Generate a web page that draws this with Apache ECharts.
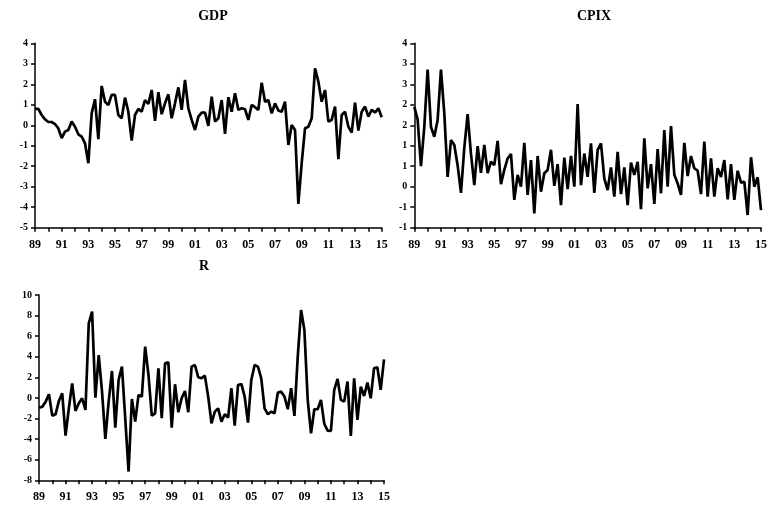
<!DOCTYPE html>
<html>
<head>
<meta charset="utf-8">
<script src="https://cdn.jsdelivr.net/npm/echarts@6/dist/echarts.min.js"></script>
<style>html,body{margin:0;padding:0;background:#fff}#c{width:771px;height:507px}</style>
</head>
<body>
<div id="c"></div>
<script>
// Quarterly categories 1989Q1 .. 2015Q1
const startYear = 1989, endYear = 2015;
const quarters = [];
for (let y = startYear; y <= endYear; y++) {
  for (let q = 1; q <= 4; q++) {
    if (y === endYear && q > 1) break;
    quarters.push(y + 'Q' + q);
  }
}
const titles = ['GDP', 'CPIX', 'R'];

const gdp = [
  0.80, 0.80, 0.50, 0.29, 0.16, 0.16, 0.06, -0.15, -0.63, -0.31,
  -0.23, 0.18, -0.07, -0.44, -0.55, -0.88, -1.85, 0.58, 1.27, -0.68,
  1.92, 1.15, 0.99, 1.48, 1.48, 0.50, 0.34, 1.35, 0.66, -0.75,
  0.50, 0.80, 0.66, 1.23, 1.04, 1.72, 0.21, 1.61, 0.54, 1.07,
  1.51, 0.34, 1.07, 1.85, 0.75, 2.21, 0.83, 0.26, -0.23, 0.42,
  0.62, 0.62, -0.03, 1.40, 0.18, 0.34, 1.23, -0.42, 1.37, 0.66,
  1.56, 0.75, 0.83, 0.78, 0.26, 0.99, 0.88, 0.75, 2.08, 1.15,
  1.23, 0.58, 1.07, 0.72, 0.66, 1.15, -0.96, 0.01, -0.23, -3.84,
  -1.85, -0.15, -0.07, 0.34, 2.78, 2.13, 1.15, 1.72, 0.18, 0.26,
  0.91, -1.66, 0.50, 0.66, -0.07, -0.36, 1.10, -0.26, 0.66, 0.91,
  0.42, 0.75, 0.62, 0.83, 0.39
];

const cpix = [
  1.95, 1.64, 0.50, 1.46, 2.86, 1.46, 1.22, 1.63, 2.86, 1.79,
  0.24, 1.14, 1.02, 0.52, -0.15, 0.95, 1.77, 0.80, 0.04, 0.99,
  0.34, 1.02, 0.33, 0.61, 0.53, 1.12, 0.06, 0.41, 0.69, 0.80,
  -0.32, 0.29, 0.00, 1.07, -0.20, 0.65, -0.65, 0.75, -0.12, 0.33,
  0.41, 0.90, 0.02, 0.55, -0.45, 0.71, -0.06, 0.75, 0.00, 2.02,
  0.04, 0.81, 0.24, 1.06, -0.15, 0.90, 1.06, 0.20, -0.08, 0.47,
  -0.24, 0.85, -0.18, 0.47, -0.45, 0.59, 0.29, 0.61, -0.55, 1.18,
  -0.04, 0.55, -0.42, 0.92, -0.16, 1.38, 0.00, 1.48, 0.29, 0.08,
  -0.20, 1.07, 0.26, 0.75, 0.45, 0.39, -0.18, 1.10, -0.24, 0.69,
  -0.24, 0.45, 0.24, 0.65, -0.31, 0.55, -0.32, 0.39, 0.10, 0.12,
  -0.69, 0.72, 0.00, 0.23, -0.57
];

const rate = [
  -0.94, -0.85, -0.36, 0.36, -1.72, -1.59, -0.29, 0.45, -3.66, -1.00,
  1.42, -1.26, -0.52, -0.03, -1.17, 7.25, 8.38, 0.03, 4.17, 0.61,
  -3.98, -0.36, 2.62, -2.88, 1.75, 3.04, -2.00, -7.15, -0.10, -2.30,
  0.29, 0.13, 4.98, 2.23, -1.72, -1.49, 2.88, -1.97, 3.37, 3.46,
  -2.88, 1.33, -1.39, -0.03, 0.68, -1.39, 3.04, 3.20, 2.01, 1.91,
  2.17, 0.13, -2.46, -1.33, -1.01, -2.30, -1.59, -1.91, 0.94, -2.69,
  1.26, 1.36, 0.13, -2.39, 1.75, 3.20, 3.04, 1.91, -1.01, -1.59,
  -1.33, -1.49, 0.52, 0.61, 0.13, -1.10, 0.94, -1.75, 4.01, 8.54,
  6.60, -0.19, -3.43, -1.10, -1.10, -0.19, -2.52, -3.17, -3.20, 0.78,
  1.85, -0.19, -0.36, 1.59, -3.69, 1.91, -2.14, 1.10, 0.19, 1.49,
  -0.03, 2.88, 2.98, 0.78, 3.75
];

const FONT = '"Liberation Serif", "DejaVu Serif", serif';

function xAxis(gi) {
  return {
    type: 'category', gridIndex: gi, data: quarters, boundaryGap: false,
    axisLine: { onZero: false, lineStyle: { color: '#000', width: 1.5 } },
    axisTick: { show: true, length: 4, inside: false, lineStyle: { color: '#000', width: 1.5 },
      interval: function (idx) { return idx % 4 === 0; } },
    axisLabel: { color: '#000', fontFamily: FONT, fontWeight: 'bold', fontSize: 12, margin: 11,
      interval: function (idx) { return idx % 8 === 0; },
      formatter: function (v) { return v.substr(2, 2); } },
    splitLine: { show: false }
  };
}
function yAxis(gi, min, max, interval, fmt) {
  return {
    type: 'value', gridIndex: gi, min: min, max: max, interval: interval,
    axisLine: { show: true, onZero: false, lineStyle: { color: '#000', width: 1.5 } },
    axisTick: { show: true, length: 4, lineStyle: { color: '#000', width: 1.5 } },
    axisLabel: { color: '#000', fontFamily: FONT, fontWeight: 'bold', fontSize: 10, margin: 7,
      formatter: fmt },
    splitLine: { show: false }
  };
}
function lineSeries(i, data) {
  return {
    type: 'line', xAxisIndex: i, yAxisIndex: i, data: data, showSymbol: false,
    symbol: 'none', lineStyle: { color: '#000', width: 2.7 }, animation: false
  };
}

const chart = echarts.init(document.getElementById('c'), null, { renderer: 'canvas' });
chart.setOption({
  animation: false,
  backgroundColor: '#fff',
  title: [
    { text: titles[0], left: 208, top: 4, textAlign: 'center',
      textStyle: { fontFamily: FONT, fontWeight: 'bold', fontSize: 14, color: '#000' } },
    { text: titles[1], left: 589, top: 4, textAlign: 'center',
      textStyle: { fontFamily: FONT, fontWeight: 'bold', fontSize: 14, color: '#000' } },
    { text: titles[2], left: 199, top: 254, textAlign: 'center',
      textStyle: { fontFamily: FONT, fontWeight: 'bold', fontSize: 14, color: '#000' } }
  ],
  grid: [
    { left: 35, top: 43.3, width: 346.7, height: 184.4 },
    { left: 414.3, top: 43.3, width: 346.7, height: 184.4 },
    { left: 39, top: 295, width: 345, height: 185.3 }
  ],
  xAxis: [xAxis(0), xAxis(1), xAxis(2)],
  yAxis: [
    yAxis(0, -5, 4, 1),
    yAxis(1, -1, 3.5, 0.5, function (v) { return String(Math.sign(v) * Math.round(Math.abs(v))); }),
    yAxis(2, -8, 10, 2)
  ],
  series: [lineSeries(0, gdp), lineSeries(1, cpix), lineSeries(2, rate)]
});
</script>
</body>
</html>
